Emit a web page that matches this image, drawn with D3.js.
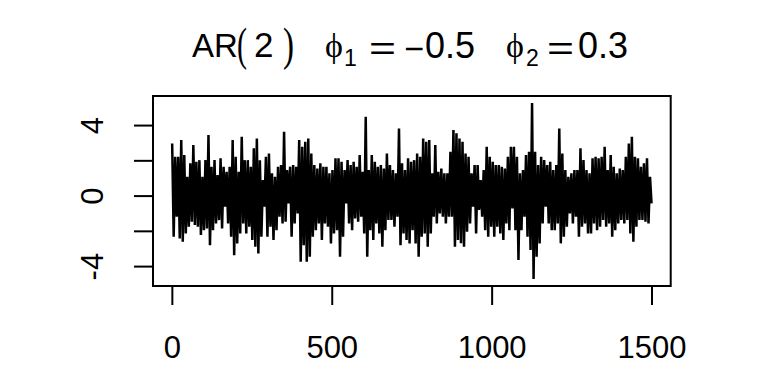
<!DOCTYPE html>
<html><head><meta charset="utf-8">
<script src="https://cdn.jsdelivr.net/npm/d3@7"></script>
<style>body{margin:0;background:#fff}</style>
</head><body>
<svg id="c" width="768" height="384"></svg>
<script>
// AR(2) simulated series, values read (approximately) from the reference picture
const values = [
 2.96,-2.34, 2.20,-1.20, 2.20,-2.43, 3.15,-2.62, 2.30,-2.15, 1.07,-1.77, 1.83,-1.48, 2.87,-1.67, 1.92,-1.77, 2.01,-2.24,
 1.07,-1.96, 2.01,-1.86, 3.43,-2.81, 1.64,-1.96, 2.01,-1.58, 1.16,-1.39, 2.11,-1.86, 1.64,-0.63, 1.35,-1.58, 1.64,-2.34,
 3.15,-3.38, 2.20,-2.71, 1.35,-2.15, 3.34,-1.58, 2.01,-2.15,
 2.01,-1.77, 1.64,-2.52, 2.68,-2.90, 3.24,-3.28, 2.01,-2.34, 0.88,-0.63, 2.20,-2.34, 2.39,-1.77, 1.26,-2.52, 1.07,-1.96,
 1.64,-1.20, 1.73,-1.58, 3.62,-1.48, 1.45,-0.44, 1.64,-2.34, 1.73,-1.58, 1.64,-1.01, 3.15,-3.75, 2.77,-2.81, 3.05,-3.75,
 3.24,-3.47, 2.39,-2.34, 1.73,-1.96, 1.54,-1.58, 1.83,-2.52, 1.64,-1.58, 1.64,-1.77, 1.26,-2.71, 1.45,-2.15, 2.11,-1.96,
 2.11,-3.47, 1.92,-2.34, 1.45,-0.44, 2.01,-1.58, 1.73,-1.96, 1.92,-1.30, 1.64,-1.48, 2.30,-1.20, 1.35,-2.15, 4.47,-3.47,
 1.45,-1.96, 2.30,-2.52, 1.92,-1.58, 1.64,-2.15, 1.73,-2.90, 1.54,-1.96, 2.39,-1.39, 1.73,-1.39, 1.45,-1.77, 1.26,-1.20,
 3.81,-2.81, 1.83,-2.15, 1.45,-2.52, 2.11,-2.71, 1.92,-1.96, 2.01,-2.71, 2.39,-3.47, 2.20,-2.34, 3.24,-2.15, 3.05,-2.90,
 3.15,-2.15, 1.26,-1.20, 2.87,-1.58, 1.35,-1.01, 1.54,-1.20, 1.26,-1.58, 1.26,-1.20, 2.49,-1.20, 3.72,-2.90, 3.53,-2.52,
 3.24,-2.71, 3.05,-2.90, 2.39,-2.05, 2.20,-1.58, 1.26,-0.63, 1.73,-2.15, 1.73,-0.82, 0.88,-1.20, 1.45,-1.96, 2.77,-2.34,
 2.20,-1.77, 1.92,-2.34, 1.73,-1.77, 1.73,-2.15, 1.64,-2.52, 1.54,-1.58, 2.20,-1.96, 2.77,-0.73,
 2.77,-1.96, 2.20,-3.66, 1.26,-1.96, 1.45,-1.20, 2.30,-2.34, 2.49,-3.09, 5.25,-4.73, 2.49,-3.47, 1.73,-2.71, 2.20,-1.58,
 2.01,-0.63, 1.73,-1.58, 1.92,-1.96, 1.45,-1.96, 1.73,-1.58, 3.81,-2.71, 2.39,-2.34, 1.45,-1.77, 1.07,-1.01, 1.26,-1.58,
 1.45,-1.20, 1.45,-2.34, 2.68,-1.77, 2.01,-1.58, 1.45,-2.15, 1.26,-2.15, 2.11,-1.58, 2.20,-1.96, 2.11,-1.77, 2.20,-1.39,
 2.77,-1.77, 1.45,-1.58, 2.30,-2.34, 1.64,-1.96, 1.26,-1.58, 1.54,-1.39, 1.45,-1.58, 2.20,-1.39, 2.96,-2.15, 3.34,-2.62,
 2.20,-1.77, 2.11,-1.39, 1.64,-1.39, 1.83,-1.48, 2.11,-1.58, 1.07,-0.44
];
const seriesLength = 1500;
const xTickValues = [0, 500, 1000, 1500];
const yTickValues = [-4, -2, 0, 2, 4];
const yTickLabels = ["-4", "", "0", "", "4"];

const svg = d3.select("#c");
const plot = {left: 153, right: 670.7, top: 96, bottom: 286};

// time index for each stored value (spread over 1..1500)
const times = values.map((v, i) => 1 + i * (seriesLength - 1) / (values.length - 1));

// R-style 4% extension of the data range
const xr = [1, seriesLength], xpad = (xr[1] - xr[0]) * 0.04;
const yr = d3.extent(values), ypad = (yr[1] - yr[0]) * 0.04;
const x = d3.scaleLinear().domain([xr[0] - xpad, xr[1] + xpad]).range([plot.left, plot.right]);
const y = d3.scaleLinear().domain([yr[0] - ypad, yr[1] + ypad]).range([plot.bottom, plot.top]);

// series line
const line = d3.line().x((d, i) => x(times[i])).y(d => y(d));
svg.append("path").datum(values)
  .attr("d", line).attr("fill", "none").attr("stroke", "#000")
  .attr("stroke-width", 2.5).attr("stroke-linejoin", "miter").attr("stroke-miterlimit", 1.5);

// box
svg.append("rect").attr("x", plot.left).attr("y", plot.top)
  .attr("width", plot.right - plot.left).attr("height", plot.bottom - plot.top)
  .attr("fill", "none").attr("stroke", "#000").attr("stroke-width", 2);

const tickFont = "'Liberation Sans', Arial, sans-serif";

// x axis
const gx = svg.append("g").attr("transform", `translate(0,${plot.bottom})`)
  .call(d3.axisBottom(x).tickValues(xTickValues).tickSize(19).tickSizeOuter(0).tickFormat(d3.format("d")));
gx.select(".domain").attr("d", `M${x(xTickValues[0])},0H${x(xTickValues[xTickValues.length-1])}`).attr("stroke-width", 2);
gx.selectAll(".tick line").attr("stroke-width", 2);
gx.selectAll(".tick text").attr("y", 72).attr("dy", 0)
  .attr("font-family", tickFont).attr("font-size", 31).attr("fill", "#000");

// y axis
const gy = svg.append("g").attr("transform", `translate(${plot.left},0)`)
  .call(d3.axisLeft(y).tickValues(yTickValues).tickSize(19).tickSizeOuter(0)
    .tickFormat((d, i) => yTickLabels[i]));
gy.select(".domain").attr("d", `M0,${y(yTickValues[0])}V${y(yTickValues[yTickValues.length-1])}`).attr("stroke-width", 2);
gy.selectAll(".tick line").attr("stroke-width", 2);
gy.selectAll(".tick text").attr("x", 0).attr("y", 0).attr("dy", 0)
  .attr("transform", "translate(-50,0) rotate(-90)").attr("text-anchor", "middle")
  .attr("font-family", tickFont).attr("font-size", 31).attr("fill", "#000");

// title: AR(2)   phi1 = -0.5   phi2 = 0.3
const sans = "'Liberation Sans', Arial, sans-serif";
const serif = "'Liberation Serif', 'DejaVu Serif', serif";
const title = svg.append("g");
const parts = [
  {t: "AR", f: sans, s: 33, x: 192, y: 57},
  {t: "(", f: serif, s: 46, x: 237, y: 60, L: 10},
  {t: "2", f: sans, s: 35, x: 254, y: 57},
  {t: ")", f: serif, s: 46, x: 283, y: 60, L: 11},
  {t: "ϕ", f: serif, s: 34, x: 325, y: 57},
  {t: "1", f: sans, s: 23, x: 344, y: 65.5},
  {t: "=", f: sans, s: 33, x: 369, y: 60, L: 27},
  {t: "−", f: sans, s: 33, x: 404, y: 60, L: 20},
  {t: "0.5", f: sans, s: 36, x: 425, y: 58},
  {t: "ϕ", f: serif, s: 34, x: 506, y: 57},
  {t: "2", f: sans, s: 23, x: 526, y: 65.5},
  {t: "=", f: sans, s: 33, x: 547, y: 60, L: 27},
  {t: "0.3", f: sans, s: 36, x: 578, y: 58}
];
parts.forEach(p => {
  const el = title.append("text").attr("x", p.x).attr("y", p.y)
    .attr("font-family", p.f).attr("font-size", p.s).attr("fill", "#000").text(p.t);
  if (p.L) el.attr("textLength", p.L).attr("lengthAdjust", "spacingAndGlyphs");
});
</script>
</body></html>
